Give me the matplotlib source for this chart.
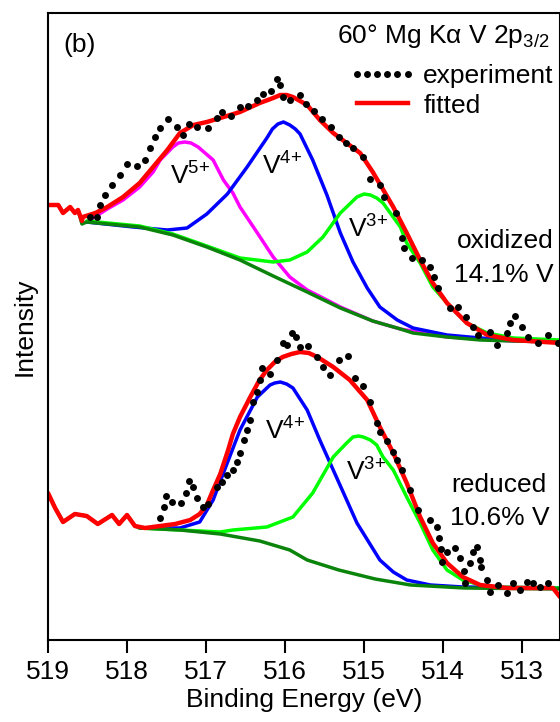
import matplotlib
matplotlib.use('Agg')
import matplotlib.pyplot as plt
from matplotlib.lines import Line2D

plt.rcParams['font.family'] = ['Liberation Sans', 'DejaVu Sans']
plt.rcParams['mathtext.fontset'] = 'custom'
plt.rcParams['mathtext.rm'] = 'Liberation Sans'
plt.rcParams['mathtext.it'] = 'Liberation Sans:italic'
plt.rcParams['mathtext.bf'] = 'Liberation Sans:bold'

# ---- oxidized (upper) spectrum ----
ox_exp_e = [518.47, 518.38, 518.34, 518.28, 518.19, 518.09, 518.00, 517.87, 517.77, 517.71,
            517.65, 517.58, 517.48, 517.37, 517.29, 517.22, 517.11, 516.97, 516.86, 516.80,
            516.68, 516.57, 516.47, 516.35, 516.28, 516.18, 516.10, 516.06, 516.03, 515.94,
            515.81, 515.73, 515.63, 515.53, 515.42, 515.32, 515.23, 515.14, 515.01, 514.92,
            514.80, 514.75, 514.59, 514.52, 514.49, 514.39, 514.27, 514.16, 514.11, 514.06,
            513.91, 513.81, 513.71, 513.62, 513.56, 513.41, 513.32, 513.19, 513.15, 513.09,
            513.00, 512.92, 512.80, 512.67, 512.54]
ox_exp_i = [429, 429, 441, 451, 461, 471, 482, 480, 486, 498,
            509, 518, 527, 519, 511, 522, 519, 518, 528, 534,
            530, 539, 540, 546, 552, 555, 567, 561, 549, 546,
            551, 542, 535, 527, 519, 509, 503, 498, 489, 467,
            461, 449, 433, 408, 398, 388, 386, 379, 369, 358,
            338, 339, 329, 319, 311, 314, 301, 313, 323, 330,
            319, 309, 303, 311, 303]

ox_fit_e = [519.00, 518.87, 518.81, 518.72, 518.66, 518.62, 518.57, 518.56, 518.40, 518.25,
            518.05, 517.84, 517.67, 517.49, 517.33, 517.16, 516.99, 516.82, 516.57, 516.32,
            516.15, 516.06, 515.98, 515.90, 515.72, 515.56, 515.39, 515.22, 515.05, 514.89,
            514.80, 514.63, 514.46, 514.29, 514.13, 513.95, 513.70, 513.44, 513.11, 512.52]
ox_fit_i = [441, 441, 433, 439, 433, 436, 425, 429, 433, 439,
            449, 463, 479, 496, 513, 521, 524, 528, 534, 543,
            548, 551, 551, 549, 541, 526, 513, 503, 493, 474,
            462, 439, 413, 386, 363, 343, 323, 311, 306, 303]

ox_bg_e = [519.00, 518.87, 518.81, 518.72, 518.66, 518.62, 518.57, 518.51, 517.84, 517.42,
           516.99, 516.57, 516.15, 515.72, 515.30, 514.89, 514.54, 514.38, 513.95, 513.53,
           513.11, 512.52]
ox_bg_i = [441, 441, 433, 439, 433, 436, 422, 424, 419, 411,
           399, 386, 370, 354, 338, 325, 317, 313, 309, 306,
           305, 304]

ox_v5_e = [518.51, 518.25, 518.05, 517.84, 517.67, 517.58, 517.42, 517.35, 517.27, 517.19,
           517.10, 516.91, 516.78, 516.66, 516.57, 516.35, 516.15, 515.94, 515.72, 515.52,
           515.30, 514.89, 514.54, 513.95, 513.11, 512.52]
ox_v5_i = [424, 437, 446, 459, 474, 486, 499, 503, 504, 503,
           499, 486, 466, 453, 439, 413, 389, 369, 356, 348,
           339, 325, 317, 309, 305, 304]

ox_v4_e = [518.51, 517.92, 517.49, 517.24, 516.99, 516.73, 516.48, 516.23, 516.16, 516.09,
           516.02, 515.94, 515.87, 515.81, 515.65, 515.47, 515.30, 515.14, 514.96, 514.80,
           514.58, 514.38, 513.95, 513.53, 513.11, 512.52]
ox_v4_i = [424, 419, 416, 418, 432, 452, 479, 508, 517, 522,
           524, 521, 517, 512, 486, 451, 413, 384, 358, 339,
           326, 318, 311, 308, 306, 304]

ox_v3_e = [518.51, 517.84, 517.42, 516.99, 516.57, 516.15, 515.94, 515.72, 515.52, 515.30,
           515.09, 515.00, 514.92, 514.84, 514.76, 514.54, 514.46, 514.29, 514.13, 513.95,
           513.70, 513.44, 513.11, 512.52]
ox_v3_i = [425, 420, 412, 400, 388, 384, 386, 394, 409, 433,
           449, 452, 451, 448, 443, 419, 403, 383, 359, 343,
           323, 313, 308, 306]

# ---- reduced (lower) spectrum ----
rd_exp_e = [517.58, 517.53, 517.51, 517.43, 517.32, 517.25, 517.22, 517.16, 517.11, 517.04,
            516.97, 516.86, 516.80, 516.73, 516.66, 516.61, 516.57, 516.52, 516.48, 516.44,
            516.41, 516.35, 516.32, 516.29, 516.19, 516.10, 516.03, 515.97, 515.91, 515.86,
            515.81, 515.71, 515.59, 515.52, 515.43, 515.32, 515.20, 515.11, 515.01, 514.92,
            514.84, 514.80, 514.71, 514.63, 514.58, 514.52, 514.42, 514.32, 514.16, 514.08,
            514.05, 514.03, 514.01, 513.95, 513.85, 513.78, 513.73, 513.72, 513.66, 513.62,
            513.57, 513.53, 513.52, 513.44, 513.41, 513.30, 513.19, 513.11, 513.03, 512.94,
            512.86, 512.77, 512.67]
rd_exp_i = [128, 139, 150, 144, 143, 153, 165, 159, 148, 139,
            142, 159, 164, 171, 176, 184, 193, 206, 216, 226,
            244, 254, 266, 278, 272, 286, 303, 301, 313, 309,
            299, 300, 289, 279, 271, 286, 290, 268, 260, 244,
            223, 214, 205, 194, 186, 176, 156, 136, 126, 119,
            108, 97, 84, 94, 98, 88, 75, 63, 83, 94,
            99, 86, 79, 66, 54, 61, 53, 63, 56, 64,
            63, 59, 63]

rd_fit_e = [519.00, 518.91, 518.81, 518.66, 518.51, 518.37, 518.19, 518.10, 518.00, 517.90,
            517.77, 517.58, 517.39, 517.20, 517.08, 516.99, 516.91, 516.82, 516.72, 516.66,
            516.57, 516.44, 516.33, 516.23, 516.13, 516.03, 515.92, 515.81, 515.70, 515.59,
            515.39, 515.18, 514.96, 514.80, 514.63, 514.46, 514.29, 514.13, 513.95, 513.75,
            513.53, 513.19, 512.61, 512.52]
rd_fit_i = [153, 138, 124, 132, 130, 122, 131, 122, 131, 120,
            118, 120, 122, 126, 132, 141, 156, 172, 196, 212,
            229, 249, 265, 276, 284, 289, 292, 294, 293, 289,
            279, 266, 246, 219, 193, 163, 129, 103, 83, 69,
            61, 58, 58, 49]

rd_bg_e = [519.00, 518.91, 518.81, 518.66, 518.51, 518.37, 518.19, 518.10, 518.00, 517.90,
           517.84, 517.33, 516.82, 516.32, 515.94, 515.72, 515.32, 514.86, 514.41, 513.73,
           512.52]
rd_bg_i = [153, 138, 124, 132, 130, 122, 131, 122, 131, 120,
           118, 116, 112, 105, 96, 86, 76, 67, 61, 58,
           57]

rd_v4_e = [517.84, 517.33, 517.08, 516.91, 516.78, 516.57, 516.35, 516.19, 516.13, 516.06,
           515.98, 515.90, 515.72, 515.56, 515.39, 515.22, 515.09, 514.80, 514.63, 514.46,
           514.16, 513.75, 512.52]
rd_v4_i = [118, 118, 124, 146, 173, 216, 249, 261, 263, 264,
           262, 258, 236, 206, 176, 146, 123, 86, 74, 66,
           61, 59, 58]

rd_v3_e = [517.84, 516.82, 516.66, 516.23, 515.90, 515.65, 515.39, 515.22, 515.14, 515.07,
           515.01, 514.92, 514.84, 514.76, 514.63, 514.46, 514.29, 514.13, 513.95, 513.75,
           513.44, 512.52]
rd_v3_i = [118, 114, 116, 119, 129, 153, 189, 203, 209, 210,
           209, 206, 201, 189, 176, 149, 123, 96, 76, 66,
           59, 58]

xticks = [519, 518, 517, 516, 515, 514, 513]

# colours of the fit components
c_fit = '#ff0000'
c_bg = '#0b840b'
c_v5 = '#ff00ff'
c_v4 = '#0000ff'
c_v3 = '#00ff00'

fig = plt.figure(figsize=(5.6, 7.22), dpi=100)
ax = fig.add_axes([48/560, 82/722, 512/560, 627/722])

lw = 2.5
lw_fit = 3.2
ms = 5.0
kw = dict(solid_joinstyle='round', solid_capstyle='round')

# upper spectrum
ax.plot(ox_v5_e, ox_v5_i, color=c_v5, lw=lw, **kw)
ax.plot(ox_v4_e, ox_v4_i, color=c_v4, lw=lw, **kw)
ax.plot(ox_v3_e, ox_v3_i, color=c_v3, lw=lw, **kw)
ax.plot(ox_bg_e, ox_bg_i, color=c_bg, lw=lw, **kw)
ax.plot(ox_fit_e, ox_fit_i, color=c_fit, lw=lw_fit, **kw)
ax.plot(ox_exp_e, ox_exp_i, 'o', color='black', ms=ms, mec='none')

# lower spectrum
ax.plot(rd_v4_e, rd_v4_i, color=c_v4, lw=lw, **kw)
ax.plot(rd_v3_e, rd_v3_i, color=c_v3, lw=lw, **kw)
ax.plot(rd_bg_e, rd_bg_i, color=c_bg, lw=lw, **kw)
ax.plot(rd_fit_e, rd_fit_i, color=c_fit, lw=lw_fit, **kw)
ax.plot(rd_exp_e, rd_exp_i, 'o', color='black', ms=ms, mec='none')

ax.set_xlim(519, 512.52)
ax.set_ylim(6, 633)
ax.set_xticks(xticks)
ax.set_yticks([])
ax.tick_params(axis='x', direction='out', length=9.5, width=1.5, labelsize=19, pad=5)
for s in ax.spines.values():
    s.set_linewidth(1.5)

ax.set_xlabel('Binding Energy (eV)', fontsize=19, labelpad=3)
ax.set_ylabel('Intensity', fontsize=19, labelpad=8)

# legend
h_exp = Line2D([], [], ls='none', marker='o', color='black', ms=ms, mec='none')
h_fit = Line2D([], [], color=c_fit, lw=lw_fit)
ax.legend([h_exp, h_fit], ['experiment', 'fitted'], loc='upper right',
          bbox_to_anchor=(0.988, 0.918), frameon=False, fontsize=19, numpoints=6,
          handlelength=2.5, handletextpad=0.3, labelspacing=0.2, borderpad=0,
          borderaxespad=0)

# labels
tr = ax.transAxes
ax.text(0.0625, 0.949, '(b)', fontsize=19, ha='center', va='center', transform=tr)
ax.text(0.98, 0.952, '60° Mg Kα V 2p$_{\\mathrm{3/2}}$', fontsize=19, ha='right',
        va='baseline', transform=tr)
ax.text(0.238, 0.727, 'V$^{5{+}}$', fontsize=19, transform=tr)
ax.text(0.418, 0.743, 'V$^{4{+}}$', fontsize=19, transform=tr)
ax.text(0.586, 0.641, 'V$^{3{+}}$', fontsize=19, transform=tr)
ax.text(0.988, 0.625, 'oxidized', fontsize=19, ha='right', transform=tr)
ax.text(0.988, 0.571, '14.1% V', fontsize=19, ha='right', transform=tr)
ax.text(0.424, 0.319, 'V$^{4{+}}$', fontsize=19, transform=tr)
ax.text(0.582, 0.255, 'V$^{3{+}}$', fontsize=19, transform=tr)
ax.text(0.973, 0.236, 'reduced', fontsize=19, ha='right', transform=tr)
ax.text(0.980, 0.183, '10.6% V', fontsize=19, ha='right', transform=tr)

fig.savefig('out.png', dpi=100)
